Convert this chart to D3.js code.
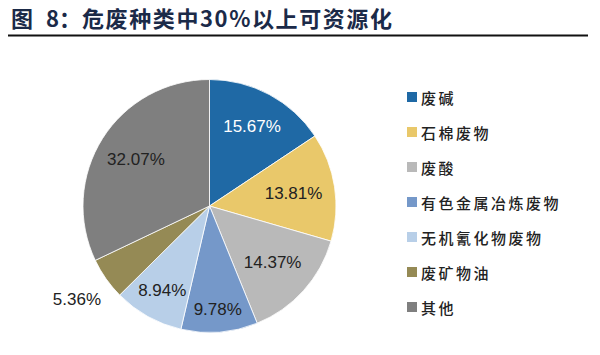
<!DOCTYPE html>
<html><head><meta charset="utf-8">
<script src="https://cdn.jsdelivr.net/npm/d3@7"></script>
<style>body{margin:0;background:#fff}svg{display:block}</style>
</head><body>
<svg id="c" width="600" height="355"></svg>
<script>
const categories = ["废碱","石棉废物","废酸","有色金属冶炼废物","无机氰化物废物","废矿物油","其他"];
const values = [15.67, 13.81, 14.37, 9.78, 8.94, 5.36, 32.07];
const labels = ["15.67%","13.81%","14.37%","9.78%","8.94%","5.36%","32.07%"];
const colors = ["#1f69a5","#e9c86a","#b9b9b9","#7598c9","#b8cfe8","#958a55","#7f7f7f"];
const labelColors = ["#ffffff","#222","#222","#222","#222","#222","#222"];
const labelRadii = [90, 85, 85, 104, 97, 162, 87];
const titleParts = ["图", "8：", "危废种类中30%以上可资源化"];

const svg = d3.select("#c");
const cx = 209.5, cy = 206, R = 126.5;

const t = svg.append("text").attr("y", 27)
  .attr("font-family", "'Noto Sans CJK SC', sans-serif").attr("font-weight", "bold")
  .attr("font-size", 22).attr("fill", "#1b2a48");
t.append("tspan").attr("x", 11).text(titleParts[0]);
t.append("tspan").attr("x", 46).text(titleParts[1]);
t.append("tspan").attr("x", 82).attr("letter-spacing", 1.6).text(titleParts[2]);
svg.append("line").attr("x1", 8).attr("x2", 588).attr("y1", 35.5).attr("y2", 35.5)
  .attr("stroke", "#111").attr("stroke-width", 2);

const pie = d3.pie().sort(null).value(d => d)(values);
const arc = d3.arc().innerRadius(0).outerRadius(R);
const g = svg.append("g").attr("transform", `translate(${cx},${cy})`);
g.selectAll("path").data(pie).join("path")
  .attr("d", arc).attr("fill", (d, i) => colors[i])
  .attr("stroke", "#fff").attr("stroke-width", 0.8);

g.selectAll("text.lab").data(pie).join("text").attr("class", "lab")
  .attr("x", (d, i) => Math.sin((d.startAngle + d.endAngle) / 2) * labelRadii[i])
  .attr("y", (d, i) => -Math.cos((d.startAngle + d.endAngle) / 2) * labelRadii[i])
  .attr("text-anchor", "middle").attr("dominant-baseline", "central")
  .attr("font-family", "'Liberation Sans', Arial, sans-serif").attr("font-size", 17)
  .attr("fill", (d, i) => labelColors[i]).text((d, i) => labels[i]);

const y = d3.scalePoint().domain(categories).range([97, 307]);
const lg = svg.append("g");
lg.selectAll("rect").data(categories).join("rect")
  .attr("x", 407).attr("y", d => y(d) - 5).attr("width", 10).attr("height", 10)
  .attr("fill", (d, i) => colors[i]);
lg.selectAll("text").data(categories).join("text")
  .attr("x", 421).attr("y", d => y(d)).attr("dominant-baseline", "central")
  .attr("font-family", "'Noto Sans CJK SC', sans-serif").attr("font-size", 15)
  .attr("font-weight", 500).attr("letter-spacing", 2.5)
  .attr("fill", "#222").text(d => d);
</script>
</body></html>
